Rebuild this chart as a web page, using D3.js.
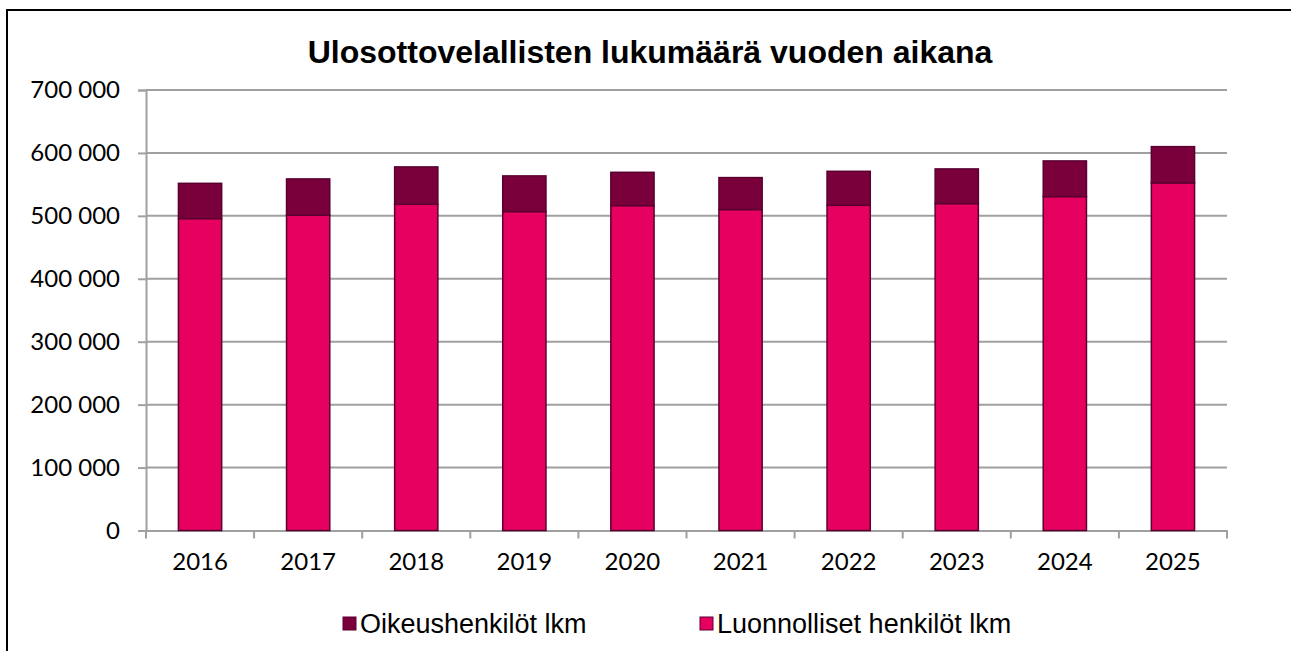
<!DOCTYPE html>
<html>
<head>
<meta charset="utf-8">
<script src="https://cdn.jsdelivr.net/npm/d3@7"></script>
<style>
  body { margin: 0; background: #fff; }
  svg { display: block; }
</style>
</head>
<body>
<svg id="chart" width="1291" height="651"></svg>
<script>
// data
const years = ['2016', '2017', '2018', '2019', '2020', '2021', '2022', '2023', '2024', '2025'];
const luonnolliset = [495700, 501000, 518400, 506800, 516300, 510000, 516800, 519500, 530600, 552400];
const oikeus = [56000, 57700, 59400, 56700, 52900, 50800, 54000, 55100, 56700, 57600];
const yTicks = [0, 100000, 200000, 300000, 400000, 500000, 600000, 700000];
const seriesNames = ['Oikeushenkilöt lkm', 'Luonnolliset henkilöt lkm'];
const colors = {luonnolliset: '#e6005f', oikeus: '#7a003c'};

const svg = d3.select('#chart');
const margin = {top: 90, right: 64, left: 146, bottom: 120.5};
const width = +svg.attr('width');
const height = +svg.attr('height');
const innerWidth = width - margin.left - margin.right;
const innerHeight = height - margin.top - margin.bottom;

// outer frame, only left and top edges are visible in the screenshot
svg.append('path')
    .attr('d', `M7,${height} L7,10 L${width},10`)
    .attr('fill', 'none')
    .attr('stroke', '#000')
    .attr('stroke-width', 2);

svg.append('text')
    .attr('x', 650).attr('y', 63)
    .attr('text-anchor', 'middle')
    .style('font-family', '"Liberation Sans", Arial, sans-serif')
    .style('font-weight', 'bold')
    .style('font-size', '32px')
    .text('Ulosottovelallisten lukumäärä vuoden aikana');

const g = svg.append('g')
    .attr('transform', `translate(${margin.left}, ${margin.top})`);

const xScale = d3.scaleBand().domain(years).range([0, innerWidth])
    .paddingInner(0.6).paddingOuter(0.3);
const yScale = d3.scaleLinear().domain([0, 700000]).range([innerHeight, 0]);

const fmt = v => d3.format(',')(v).replace(/,/g, ' ');

// y axis
const yAxisG = g.append('g')
    .call(d3.axisLeft(yScale).tickValues(yTicks).tickSize(8).tickPadding(18).tickFormat(fmt));
yAxisG.select('.domain').attr('stroke', '#a0a0a0').attr('stroke-width', 2);
yAxisG.selectAll('.tick line').attr('stroke', '#a0a0a0').attr('stroke-width', 2);
yAxisG.selectAll('.tick text')
    .style('font-family', 'Lato, sans-serif')
    .style('font-size', '24px')
    .attr('fill', '#000');

// gridlines
g.append('g').selectAll('line')
    .data(yTicks.filter(d => d > 0))
    .enter().append('line')
    .attr('x1', 0).attr('x2', innerWidth)
    .attr('y1', d => yScale(d)).attr('y2', d => yScale(d))
    .attr('stroke', '#a0a0a0').attr('stroke-width', 2);

// x axis
const xAxisG = g.append('g').attr('transform', `translate(0, ${innerHeight})`)
    .call(d3.axisBottom(xScale).tickSize(0).tickPadding(22));
xAxisG.select('.domain').attr('stroke', '#a0a0a0').attr('stroke-width', 2);
xAxisG.selectAll('.tick text')
    .style('font-family', 'Lato, sans-serif')
    .style('font-size', '24px')
    .attr('fill', '#000');
const boundaries = d3.range(years.length + 1).map(i => i * innerWidth / years.length);
xAxisG.selectAll('.xtick').data(boundaries).enter().append('line')
    .attr('x1', d => d).attr('x2', d => d)
    .attr('y1', 0).attr('y2', 8)
    .attr('stroke', '#a0a0a0').attr('stroke-width', 2);

// stacked bars
const rows = years.map((y, i) => ({year: y, luonnolliset: luonnolliset[i], oikeus: oikeus[i]}));
const stack = d3.stack().keys(['luonnolliset', 'oikeus'])(rows);

g.selectAll('g.series').data(stack).enter().append('g')
    .attr('class', 'series')
    .attr('fill', d => colors[d.key])
  .selectAll('rect').data(d => d).enter().append('rect')
    .attr('x', d => xScale(d.data.year))
    .attr('y', d => yScale(d[1]))
    .attr('width', xScale.bandwidth())
    .attr('height', d => yScale(d[0]) - yScale(d[1]))
    .attr('stroke', '#5a0030')
    .attr('stroke-width', 1.5);

// legend
const legendItems = [
  {name: seriesNames[0], color: colors.oikeus, x: 343},
  {name: seriesNames[1], color: colors.luonnolliset, x: 700}
];
const lg = svg.append('g').selectAll('g').data(legendItems).enter().append('g')
    .attr('transform', d => `translate(${d.x}, 617)`);
lg.append('rect')
    .attr('width', 13).attr('height', 13)
    .attr('fill', d => d.color)
    .attr('stroke', '#5a0030').attr('stroke-width', 1);
lg.append('text')
    .attr('x', 17).attr('y', 16)
    .style('font-family', '"Liberation Sans", Arial, sans-serif')
    .style('font-size', '27px')
    .text(d => d.name);
</script>
</body>
</html>
